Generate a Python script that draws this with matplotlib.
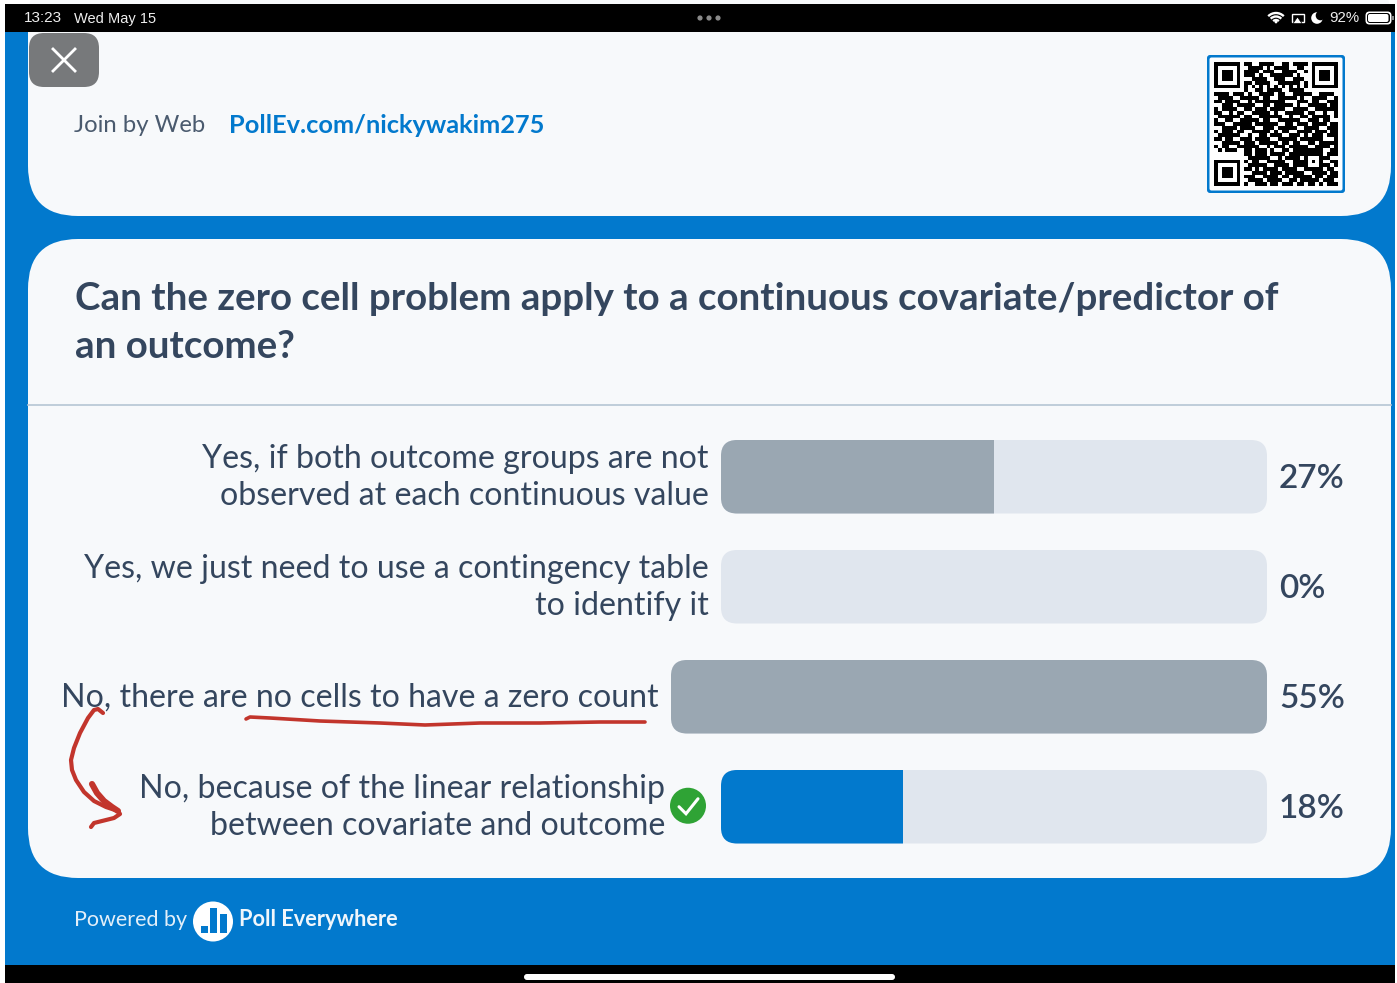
import numpy as np
from matplotlib import pyplot as plt
from matplotlib.patches import FancyBboxPatch, Circle, Rectangle, Polygon, Arc

plt.rcParams['font.family'] = ['Lato', 'DejaVu Sans']

# poll data
question = "Can the zero cell problem apply to a continuous covariate/predictor of\nan outcome?"
answers = ["Yes, if both outcome groups are not\nobserved at each continuous value",
           "Yes, we just need to use a contingency table\nto identify it",
           "No, there are no cells to have a zero count",
           "No, because of the linear relationship\nbetween covariate and outcome"]
votes = [3, 0, 6, 2]
percents = [27, 0, 55, 18]
correct = [False, False, False, True]

# pen strokes drawn over the slide
underline_x = [246, 250, 270, 320, 380, 425, 480, 540, 600, 645]
underline_y = [719, 717, 718, 721, 723, 725, 723, 723, 722, 722]
curve_x = [103, 98, 94, 88, 80, 74, 71, 72, 76, 84, 94, 106, 118, 120, 114, 102, 94, 91]
curve_y = [713, 709, 710, 718, 733, 748, 760, 770, 780, 792, 801, 807, 811, 814, 818, 821, 823, 827]
head_x = [92, 97, 104, 112, 118]
head_y = [784, 793, 801, 807, 811]

# qr code modules
qr_rows = """
1111111 0 11001111001101111 0 1111111
1000001 0 01111010111100110 0 1000001
1011101 0 11110111001111001 0 1011101
1011101 0 11101001111110100 0 1011101
1011101 0 00111100111001110 0 1011101
1000001 0 11011110011111101 0 1000001
1111111 0 10101010101010101 0 1111111
00000000 10011011110011110 00000000
11110 11101 00111 10110 01111 10011 110
01111 00111 11011 00111 11010 01111 001
11011 11001 01111 11110 00111 01100 111
00111 01111 10011 01111 10100 11111 011
10111 10011 01110 11110 01111 00111 111
11001 01100 11111 01001 11110 11001 001
01111 11011 00111 11100 10011 01111 101
10011 00111 11011 00111 11100 11101 100
11100 11111 01111 11001 10111 01111 011
00111 10111 10011 10111 11001 11100 111
10111 01100 11111 01011 00111 10111 011
01111 11001 00110 11100 11101 01110 111
11011 00111 01111 00111 11011 11110 001
00111 11011 10111 11011 01100 11011 111
10110 01111 11001 01110 11111 00111 101
01011 10011 01110 10011 01111 11110 011
00000000 1101110111101111 11111 0111
00000000 0111111001011110 10001 1100
1111111 0 1011001111100111 10101 0011
1000001 0 0111110011110111 10001 1101
1011101 0 1101011110111100 11111 0110
1011101 0 0011110111011111 00111 1011
1011101 0 1110011110110111 11011 0111
1000001 0 0111101111001101 11110 1110
1111111 0 1001110110111011 01101 0111
"""

blue = '#0279cd'
card = '#f7f9fb'
ink = '#34465e'
track = '#e0e6ee'
grey = '#9aa7b2'

fig = plt.figure(figsize=(13.97, 9.83), dpi=100, facecolor='white')
ax = fig.add_axes([0, 0, 1, 1])
ax.axis('off')

def rounded(x0, y0, x1, y1, r, color, z=1, **kw):
    p = FancyBboxPatch((x0 + r, y0 + r), x1 - x0 - 2 * r, y1 - y0 - 2 * r,
                       boxstyle='round,pad=%f,rounding_size=%f' % (r, r),
                       fc=color, ec='none', zorder=z, **kw)
    ax.add_patch(p)
    return p

# background, bars top and bottom
ax.add_patch(Rectangle((5, 4), 1390, 975, fc=blue, ec='none', zorder=0))
ax.add_patch(Rectangle((5, 4), 1390, 28, fc='black', ec='none', zorder=3))
ax.add_patch(Rectangle((5, 965), 1390, 18, fc='black', ec='none', zorder=3))
rounded(524, 974, 895, 980, 3, 'white', z=4)

# status bar
status = ['Liberation Sans']
ax.text(24, 18.5, "13:23", color='#eeeeee', fontsize=11, va='center', zorder=5, family=status)
ax.text(74, 18.5, "Wed May 15", color='#eeeeee', fontsize=10.5, va='center', zorder=5, family=status)
for dx in [700, 709, 718]:
    ax.add_patch(Circle((dx, 18), 2.6, fc='#8a8a8a', ec='none', zorder=5))
ax.text(1329, 18.5, "92%", color='#eeeeee', fontsize=10.8, va='center', zorder=5, family=status)
for d in [8, 15, 22]:
    ax.add_patch(Arc((1276, 24), d, d, theta1=225, theta2=315, ec='white', lw=1.7, zorder=5))
ax.add_patch(Circle((1276, 22), 1.4, fc='white', ec='none', zorder=5))
ax.add_patch(Rectangle((1291.5, 13.5), 12, 8, fc='none', ec='white', lw=1, zorder=5))
ax.add_patch(Polygon([[1297.5, 17], [1293, 23.5], [1302, 23.5]], fc='white', ec='black', lw=0.5, zorder=6))
ax.add_patch(Circle((1317, 18), 5.8, fc='white', ec='none', zorder=5))
ax.add_patch(Circle((1320.5, 15.5), 4.8, fc='black', ec='none', zorder=6))
rounded(1365.5, 11.5, 1391.5, 24.5, 4, 'white', z=5)
rounded(1367, 13, 1390, 23, 3, 'black', z=6)
rounded(1368, 14, 1388.5, 22, 2, 'white', z=7)
ax.add_patch(Rectangle((1392, 16), 1.5, 4, fc='#888888', ec='none', zorder=5))

# cards
rounded(28, -30, 1391, 216, 50, card, z=1)
rounded(28, 239, 1391, 878, 50, card, z=1)
ax.plot([28, 1391], [404.5, 404.5], color='#b5c6d4', lw=1.2, zorder=2)

# close button
rounded(29, 33, 99, 87, 15, '#77797b', z=4)
ax.plot([53, 75], [49, 71], color='white', lw=2, zorder=5)
ax.plot([53, 75], [71, 49], color='white', lw=2, zorder=5)

ax.text(74, 125.5, "Join by Web", color='#4a5a6e', fontsize=17.2, va='center', zorder=5)
ax.text(229, 125.5, "PollEv.com/nickywakim275", color=blue, fontsize=18.3, fontweight='bold', va='center', zorder=5)

# qr code
rounded(1207, 55, 1345, 193, 3, blue, z=2)
rounded(1209.5, 57.5, 1342.5, 190.5, 2, 'white', z=3)
qr = np.array([[int(c) for c in row.replace(' ', '')] for row in qr_rows.strip().split('\n')])
ax.imshow(qr, cmap='binary', vmin=0, vmax=1, extent=(1214, 1338, 186, 62), aspect='auto',
          interpolation='nearest', zorder=4)

# question
ax.text(75, 299, question.split('\n')[0], color=ink, fontsize=27.7, fontweight='bold', va='center', zorder=5)
ax.text(75, 347, question.split('\n')[1], color=ink, fontsize=27.7, fontweight='bold', va='center', zorder=5)

# answer rows
row_tops = [440, 550, 660, 770]
row_h = 73.5
track_right = 1267
full_left = 671
check_left = 721
label_right = [709, 709, 659, 665]
for i, ans in enumerate(answers):
    left = full_left if votes[i] == max(votes) else check_left
    y0 = row_tops[i]
    t = rounded(left, y0, track_right, y0 + row_h, 16, track, z=2)
    w = (votes[i] / max(votes)) * (track_right - left)
    c = blue if correct[i] else grey
    bars = ax.barh(y0 + row_h / 2, w, left=left, height=row_h, color=c, zorder=3)
    bars[0].set_clip_path(t)
    ax.text(label_right[i], y0 + row_h / 2 + 1, ans, color=ink, fontsize=23.1, ha='right', va='center',
            multialignment='right', linespacing=1.3, zorder=5)
    ax.text(1279, y0 + row_h / 2 + 2, "%d%%" % percents[i], color=ink, fontsize=24, fontweight='semibold',
            va='center', zorder=5)
    if correct[i]:
        cy = y0 + row_h / 2 - 1
        ax.add_patch(Circle((688, cy), 18, fc='#2fa335', ec='none', zorder=5))
        ax.plot([679, 686, 698], [cy + 1, cy + 8, cy - 7], color='white', lw=2.2, zorder=6,
                solid_capstyle='round', solid_joinstyle='miter')

# footer
ax.text(74, 920, "Powered by", color='#e3eff9', fontsize=15.5, va='center', zorder=5)
ax.add_patch(Circle((213, 921.5), 20, fc='white', ec='none', zorder=5))
ax.add_patch(Rectangle((201, 926), 7, 6.5, fc=blue, ec='none', zorder=6))
ax.add_patch(Rectangle((209.5, 908), 7.5, 24.5, fc=blue, ec='none', zorder=6))
ax.add_patch(Rectangle((220, 914), 7, 18.5, fc=blue, ec='none', zorder=6))
ax.text(239, 920, "Poll Everywhere", color='#f0f6fb', fontsize=15.7, fontweight='bold', va='center', zorder=5)

# pen
pen = '#c2352c'
ax.plot(underline_x, underline_y, color=pen, lw=2.6, solid_capstyle='round', zorder=7)
ax.plot(curve_x, curve_y, color=pen, lw=3, solid_capstyle='round', solid_joinstyle='round', zorder=7)
ax.plot(head_x, head_y, color=pen, lw=4.4, solid_capstyle='round', zorder=7)

ax.set_xlim(0, 1397)
ax.set_ylim(983, 0)
fig.savefig('out.png', dpi=100, facecolor='white')
